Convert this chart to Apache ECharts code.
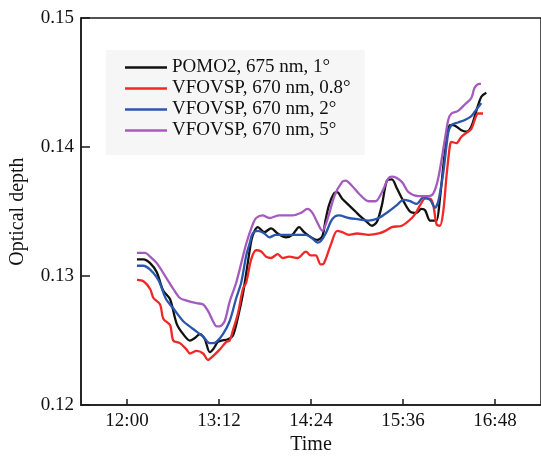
<!DOCTYPE html>
<html>
<head>
<meta charset="utf-8">
<script src="https://cdn.jsdelivr.net/npm/echarts@6/dist/echarts.min.js"></script>
<style>
html,body{margin:0;padding:0;background:#fff;}
#c{width:541px;height:460px;}
</style>
</head>
<body>
<div id="c"></div>
<script>
// Time in minutes after midnight, optical depth values
var seriesNames = ['POMO2, 675 nm, 1°', 'VFOVSP, 670 nm, 0.8°', 'VFOVSP, 670 nm, 2°', 'VFOVSP, 670 nm, 5°'];
var xTickValues = [720, 792, 864, 936, 1008];
var yTickValues = [0.12, 0.13, 0.14, 0.15];

var pomoT = [727.8,732.9,738.1,743.3,748.2,753.7,758.9,764.0,769.2,773.1,777.0,780.9,784.8,787.9,791.0,793.9,799.0,802.9,806.8,810.7,814.5,817.4,819.8,822.3,827.5,832.7,837.9,844.4,849.5,854.7,858.6,862.5,869.0,872.9,875.5,878.1,882.0,884.5,888.4,893.6,898.8,902.9,906.6,911.7,915.6,919.5,923.4,927.3,931.2,936.4,941.6,946.7,950.4,953.3,957.2,960.5,962.3,964.9,968.8,972.7,975.3,981.7,985.6,989.5,993.4,997.3,1001.2];
var pomoV = [0.1313,0.1313,0.1310,0.1303,0.1289,0.1282,0.1263,0.1255,0.1250,0.1252,0.1255,0.1251,0.1241,0.1244,0.1249,0.1250,0.1251,0.1254,0.1268,0.1286,0.1310,0.1328,0.1335,0.1338,0.1334,0.1337,0.1333,0.1330,0.1332,0.1338,0.1334,0.1331,0.1328,0.1331,0.1344,0.1355,0.1364,0.1365,0.1360,0.1355,0.1350,0.1346,0.1343,0.1339,0.1342,0.1355,0.1374,0.1375,0.1368,0.1358,0.1350,0.1349,0.1352,0.1351,0.1343,0.1343,0.1343,0.1360,0.1396,0.1417,0.1417,0.1413,0.1412,0.1416,0.1428,0.1439,0.1442];

var vf08T = [727.8,732.9,738.1,740.7,745.9,748.4,753.7,756.2,761.4,766.7,769.2,774.4,779.6,783.4,787.3,792.5,797.7,800.3,802.9,806.8,810.7,813.3,817.2,821.1,825.0,828.9,832.7,837.9,841.8,847.0,853.4,860.0,863.8,867.7,871.6,874.2,879.4,884.5,888.4,893.6,900.1,909.2,917.0,922.2,927.3,935.1,942.9,946.7,949.4,953.3,957.2,959.7,962.3,964.9,967.5,970.1,972.7,973.9,977.8,981.7,985.6,989.5,992.1,994.7,998.6];
var vf08V = [0.1297,0.1296,0.1290,0.1283,0.1278,0.1267,0.1262,0.1250,0.1248,0.1243,0.1240,0.1242,0.1240,0.1235,0.1238,0.1243,0.1249,0.1250,0.1258,0.1271,0.1290,0.1295,0.1313,0.1320,0.1319,0.1315,0.1314,0.1317,0.1314,0.1315,0.1314,0.1319,0.1316,0.1316,0.1309,0.1310,0.1324,0.1335,0.1334,0.1332,0.1333,0.1332,0.1333,0.1335,0.1338,0.1339,0.1345,0.1350,0.1355,0.1360,0.1360,0.1355,0.1340,0.1339,0.1350,0.1378,0.1401,0.1404,0.1403,0.1408,0.1411,0.1414,0.1421,0.1426,0.1426];

var vf2T = [727.8,732.9,738.1,743.3,745.9,750.6,756.2,764.0,771.8,779.6,784.8,787.3,790.0,795.1,800.3,805.5,809.4,813.3,815.9,818.4,822.3,827.5,831.4,836.6,844.4,852.2,860.0,865.1,869.0,871.6,875.5,880.6,885.8,893.6,901.4,909.2,917.0,924.7,931.2,936.4,941.6,946.7,951.9,957.2,961.0,963.6,967.5,971.4,973.9,979.1,984.4,989.5,993.4,997.3];
var vf2V = [0.1308,0.1308,0.1305,0.1299,0.1294,0.1282,0.1275,0.1265,0.1259,0.1253,0.1248,0.1248,0.1249,0.1255,0.1265,0.1283,0.1295,0.1316,0.1325,0.1333,0.1335,0.1333,0.1330,0.1332,0.1332,0.1332,0.1332,0.1329,0.1326,0.1327,0.1333,0.1344,0.1347,0.1345,0.1344,0.1343,0.1345,0.1350,0.1355,0.1359,0.1358,0.1356,0.1361,0.1359,0.1353,0.1358,0.1380,0.1411,0.1417,0.1419,0.1421,0.1424,0.1429,0.1434];

var vf5T = [727.8,734.2,738.1,743.3,751.1,756.2,761.4,766.7,774.4,779.6,783.4,787.3,790.2,792.5,796.4,800.3,805.5,813.3,818.4,821.1,826.2,831.4,839.2,849.5,856.1,861.2,865.1,868.7,872.9,875.5,878.1,882.7,888.4,891.1,896.0,901.4,909.2,914.4,919.5,924.7,927.3,935.1,940.3,948.1,955.8,959.7,963.6,968.8,971.4,973.9,979.1,984.4,989.5,992.1,996.0,997.0];
var vf5V = [0.1318,0.1318,0.1315,0.1310,0.1298,0.1290,0.1283,0.1281,0.1279,0.1278,0.1273,0.1265,0.1261,0.1261,0.1265,0.1280,0.1295,0.1325,0.1340,0.1345,0.1347,0.1345,0.1347,0.1347,0.1349,0.1352,0.1349,0.1342,0.1335,0.1340,0.1348,0.1363,0.1373,0.1374,0.1370,0.1364,0.1358,0.1358,0.1365,0.1376,0.1377,0.1373,0.1365,0.1362,0.1362,0.1364,0.1376,0.1406,0.1421,0.1426,0.1428,0.1433,0.1438,0.1446,0.1449,0.1449];

var colors = ['#111111', '#f02828', '#2a56ad', '#a45bbd'];

function pairs(t, v) { return t.map(function (x, i) { return [x, v[i]]; }); }
function fmtTime(m) {
  var h = Math.floor(m / 60), mm = Math.round(m - h * 60);
  return h + ':' + (mm < 10 ? '0' : '') + mm;
}

var font = 'Liberation Serif';
var chart = echarts.init(document.getElementById('c'), null, {renderer: 'canvas'});
var dataSets = [pairs(pomoT, pomoV), pairs(vf08T, vf08V), pairs(vf2T, vf2V), pairs(vf5T, vf5V)];

chart.setOption({
  backgroundColor: '#ffffff',
  animation: false,
  grid: {
    left: 81, top: 18, right: -3, bottom: 43,
    show: true, borderColor: '#1a1a1a', borderWidth: 1.5, backgroundColor: 'transparent'
  },
  legend: {
    orient: 'vertical',
    left: 106, top: 50,
    padding: [7, 14, 14, 19],
    backgroundColor: '#f6f6f6',
    itemGap: 0,
    itemWidth: 42, itemHeight: 2.5,
    icon: 'rect',
    textStyle: {fontFamily: font, fontSize: 19, color: '#111', lineHeight: 21},
    data: seriesNames
  },
  xAxis: {
    type: 'value', min: 684, max: 1044,
    name: 'Time', nameLocation: 'middle', nameGap: 22,
    nameTextStyle: {fontFamily: font, fontSize: 20, color: '#111'},
    axisLine: {show: true, lineStyle: {color: '#1a1a1a', width: 1.5}},
    axisTick: {show: true, inside: true, length: 6, customValues: xTickValues, lineStyle: {color: '#1a1a1a', width: 1.5}},
    axisLabel: {customValues: xTickValues, margin: 6, formatter: function (v) { return fmtTime(v); },
      fontFamily: font, fontSize: 19, color: '#111'},
    splitLine: {show: false}
  },
  yAxis: {
    type: 'value', min: 0.12, max: 0.15, interval: 0.01,
    name: 'Optical depth', nameLocation: 'middle', nameGap: 53, nameRotate: 90,
    nameTextStyle: {fontFamily: font, fontSize: 20, color: '#111'},
    axisLine: {show: true, lineStyle: {color: '#1a1a1a', width: 1.5}},
    axisTick: {show: true, inside: true, length: 9, lineStyle: {color: '#1a1a1a', width: 1.5}},
    axisLabel: {margin: 7, formatter: function (v) { return v.toFixed(2); },
      fontFamily: font, fontSize: 19, color: '#111'},
    splitLine: {show: false}
  },
  series: seriesNames.map(function (n, i) {
    return {
      name: n, type: 'line', data: dataSets[i], symbol: 'none', smooth: 0.3,
      lineStyle: {color: colors[i], width: 2.3}, itemStyle: {color: colors[i]}
    };
  })
});
</script>
</body>
</html>
